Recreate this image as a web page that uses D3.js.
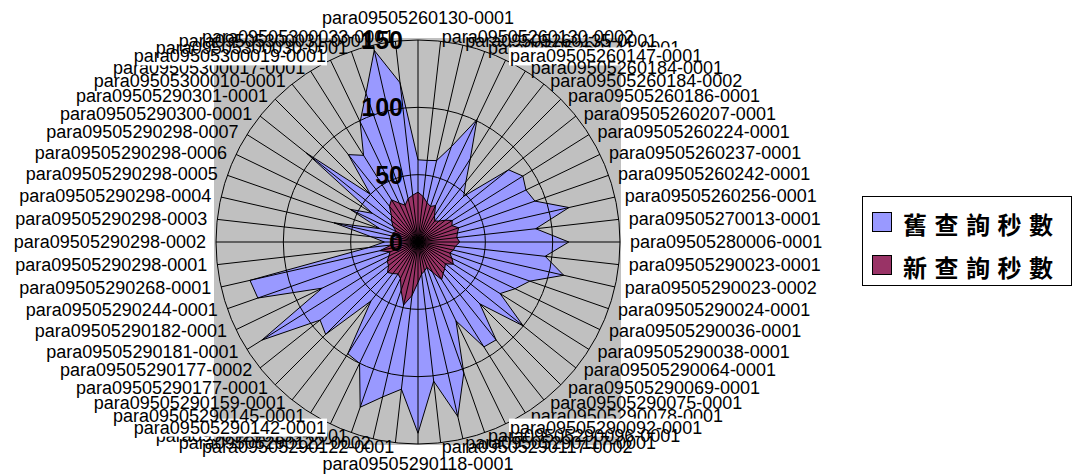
<!DOCTYPE html>
<html>
<head>
<meta charset="utf-8">
<script src="https://cdn.jsdelivr.net/npm/d3@7"></script>
<style>
  html, body { margin: 0; padding: 0; background: #fff; }
  svg { display: block; }
</style>
</head>
<body>
<svg id="chart" width="1075" height="474"></svg>
<script>
// Query ids, clockwise from 12 o'clock
const categories = [
  "para09505260130-0001", "para09505260130-0002", "para09505260135-0001", "para09505260141-0001",
  "para09505260147-0001", "para09505260184-0001", "para09505260184-0002", "para09505260186-0001",
  "para09505260207-0001", "para09505260224-0001", "para09505260237-0001", "para09505260242-0001",
  "para09505260256-0001", "para09505270013-0001", "para09505280006-0001", "para09505290023-0001",
  "para09505290023-0002", "para09505290024-0001", "para09505290036-0001", "para09505290038-0001",
  "para09505290064-0001", "para09505290069-0001", "para09505290075-0001", "para09505290078-0001",
  "para09505290092-0001", "para09505290096-0001", "para09505290117-0001", "para09505290117-0002",
  "para09505290118-0001", "para09505290122-0001", "para09505290122-0002", "para09505290139-0001",
  "para09505290142-0001", "para09505290145-0001", "para09505290159-0001", "para09505290177-0001",
  "para09505290177-0002", "para09505290181-0001", "para09505290182-0001", "para09505290244-0001",
  "para09505290268-0001", "para09505290298-0001", "para09505290298-0002", "para09505290298-0003",
  "para09505290298-0004", "para09505290298-0005", "para09505290298-0006", "para09505290298-0007",
  "para09505290300-0001", "para09505290301-0001", "para09505300010-0001", "para09505300017-0001",
  "para09505300019-0001", "para09505300030-0001", "para09505300031-0001", "para09505300033-0001"
];

// Old query time (seconds)
const oldSeconds = [
  61, 61, 62, 75, 101, 73, 57, 48, 86, 92, 89, 92, 115, 88,
  112, 95, 111, 88, 80, 72, 100, 65, 93, 92, 65, 103, 133, 104,
  142, 110, 118, 130, 100, 98, 56, 97, 93, 137, 79, 126, 128, 37,
  25, 35, 64, 30, 56, 40, 106, 50, 83, 76, 99, 117, 146, 119
];

// New query time (seconds)
const newSeconds = [
  37, 34, 30, 28, 30, 23, 20, 22, 26, 30, 28, 32, 30, 29,
  31, 28, 27, 25, 28, 31, 26, 28, 30, 33, 25, 20, 22, 24,
  30, 40, 48, 38, 30, 28, 30, 32, 28, 27, 24, 22, 29, 20,
  18, 20, 15, 20, 18, 22, 25, 28, 34, 37, 32, 29, 33, 35
];

const seriesNames = ["舊查詢秒數", "新查詢秒數"];
const seriesColors = ["#9999FF", "#993366"];
const valueTicks = [0, 50, 100, 150];

const svg = d3.select("#chart");
const cx = 418, cy = 242, R = 202;
const n = categories.length;

const r = d3.scaleLinear().domain([0, 150]).range([0, R]);
const angle = d3.scaleLinear().domain([0, n]).range([0, 2 * Math.PI]);

// Plot area background
svg.append("rect")
  .attr("x", cx - R - 2).attr("y", cy - R - 2)
  .attr("width", 2 * R + 3).attr("height", 2 * R + 3)
  .attr("fill", "#C0C0C0");

const g = svg.append("g").attr("transform", `translate(${cx},${cy})`);

// Filled series
const radial = d3.lineRadial()
  .angle((d, i) => angle(i))
  .radius(d => r(d))
  .curve(d3.curveLinearClosed);

[oldSeconds, newSeconds].forEach((vals, k) => {
  g.append("path")
    .attr("d", radial(vals))
    .attr("fill", seriesColors[k])
    .attr("stroke", "#000")
    .attr("stroke-width", 1)
    .attr("stroke-linejoin", "miter");
});

// Value gridlines
g.selectAll("circle.grid")
  .data(valueTicks.filter(v => v > 0))
  .join("circle")
  .attr("class", "grid")
  .attr("r", d => r(d))
  .attr("fill", "none")
  .attr("stroke", "#000")
  .attr("stroke-width", 1);

// Category spokes
g.selectAll("line.spoke")
  .data(categories)
  .join("line")
  .attr("class", "spoke")
  .attr("x1", 0).attr("y1", 0)
  .attr("x2", (d, i) => R * Math.sin(angle(i)))
  .attr("y2", (d, i) => -R * Math.cos(angle(i)))
  .attr("stroke", "#000")
  .attr("stroke-width", 1);

// Category labels
const boxed = new Set([4, 24, 32, 52]);
const labelFont = "Liberation Sans, Arial, sans-serif";
const labels = svg.append("g");
categories.forEach((name, i) => {
  const a = angle(i);
  const s = Math.sin(a), c = Math.cos(a);
  let x, y, anchor;
  if (Math.abs(s) < 1e-6) {
    x = cx; anchor = "middle";
    y = c > 0 ? cy - 224 : cy + 222;
  } else {
    x = cx + 212 * s;
    y = cy - 206 * c;
    anchor = s > 0 ? "start" : "end";
  }
  const grp = labels.append("g");
  const t = grp.append("text")
    .attr("x", x).attr("y", y)
    .attr("text-anchor", anchor)
    .attr("dominant-baseline", "central")
    .attr("font-family", labelFont)
    .attr("font-size", 18)
    .attr("fill", "#000")
    .text(name);
  if (boxed.has(i)) {
    const bb = t.node().getBBox();
    grp.insert("rect", "text")
      .attr("x", bb.x - 1).attr("y", bb.y + 1)
      .attr("width", bb.width + 2).attr("height", bb.height - 2)
      .attr("fill", "#fff");
  }
});

// Value axis labels
svg.append("g")
  .selectAll("text")
  .data(valueTicks)
  .join("text")
  .attr("x", cx - 15)
  .attr("y", d => cy - r(d))
  .attr("text-anchor", "end")
  .attr("dominant-baseline", "central")
  .attr("font-family", labelFont)
  .attr("font-weight", "bold")
  .attr("font-size", 25)
  .text(d => d);

// Legend
const legend = svg.append("g");
legend.append("rect")
  .attr("x", 862.5).attr("y", 196.5)
  .attr("width", 209).attr("height", 89)
  .attr("fill", "#fff").attr("stroke", "#000").attr("stroke-width", 1);
seriesNames.forEach((name, k) => {
  const y0 = 223 + k * 43;
  legend.append("rect")
    .attr("x", 872.5).attr("y", y0 - 10.5)
    .attr("width", 19).attr("height", 19)
    .attr("fill", seriesColors[k]).attr("stroke", "#000").attr("stroke-width", 1);
  legend.append("text")
    .attr("x", 903).attr("y", y0)
    .attr("dominant-baseline", "central")
    .attr("font-family", "Noto Sans CJK TC, sans-serif")
    .attr("font-weight", "bold")
    .attr("font-size", 24)
    .attr("letter-spacing", 7.5)
    .text(name);
});
</script>
</body>
</html>
